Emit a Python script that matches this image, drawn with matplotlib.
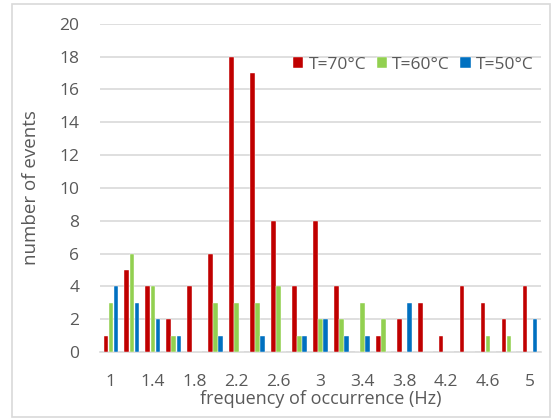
import numpy as np
import matplotlib
matplotlib.use("Agg")
import matplotlib.pyplot as plt
from matplotlib.patches import Rectangle

# frequency classes (Hz) and event counts per temperature
freqs = ["1", "1.2", "1.4", "1.6", "1.8", "2", "2.2", "2.4", "2.6", "2.8", "3",
         "3.2", "3.4", "3.6", "3.8", "4", "4.2", "4.4", "4.6", "4.8", "5"]
t70 = [1, 5, 4, 2, 4, 6, 18, 17, 8, 4, 8, 4, 0, 1, 2, 3, 1, 4, 3, 2, 4]
t60 = [3, 6, 4, 1, 0, 3, 3, 3, 4, 1, 2, 2, 3, 2, 0, 0, 0, 0, 1, 1, 0]
t50 = [4, 3, 2, 1, 0, 1, 0, 1, 0, 1, 2, 1, 1, 0, 3, 0, 0, 0, 0, 0, 2]
series = [("T=70°C", t70, "#C00000"),
          ("T=60°C", t60, "#92D050"),
          ("T=50°C", t50, "#0070C0")]

plt.rcParams['font.family'] = ['Open Sans', 'DejaVu Sans']
txt = "#595959"

fig = plt.figure(figsize=(5.54, 4.19), dpi=100)
ax = fig.add_axes([0.181, 0.160, 0.795, 0.783])

x = np.arange(len(freqs))
w = 0.21
for i, (lab, vals, col) in enumerate(series):
    ax.bar(x + (i - 1) * 0.24, vals, width=w, color=col, label=lab, zorder=3,
           edgecolor="white", linewidth=0.3)

ax.set_xlim(-0.5, len(freqs) - 0.5)
ax.set_ylim(0, 20)
ax.set_yticks(range(0, 21, 2))
ax.set_xticks(x[::2])
ax.set_xticklabels(freqs[::2])
ax.yaxis.grid(True, color="#d9d9d9", linewidth=1.2, zorder=0)
ax.tick_params(length=0, labelsize=12.5, labelcolor=txt)
ax.tick_params(axis="y", pad=15)
ax.tick_params(axis="x", pad=16)
for s in ["top", "right", "left"]:
    ax.spines[s].set_visible(False)
ax.spines["bottom"].set_color("#d9d9d9")
ax.spines["bottom"].set_linewidth(1.2)

ax.set_xlabel("frequency of occurrence (Hz)", fontsize=13, color=txt, labelpad=0)
ax.set_ylabel("number of events", fontsize=13.5, color=txt, labelpad=14)

ax.legend(loc="upper right", bbox_to_anchor=(1.0, 0.92), ncol=3, frameon=False,
          fontsize=12.5, labelcolor=txt, handlelength=0.6, handleheight=0.6,
          handletextpad=0.3, columnspacing=0.6, borderaxespad=0)

fig.add_artist(Rectangle((12 / 554, 2 / 419), 538 / 554, 413 / 419,
                         transform=fig.transFigure, fill=False,
                         edgecolor="#d9d9d9", linewidth=1.2))

fig.savefig("out.png", dpi=100)
